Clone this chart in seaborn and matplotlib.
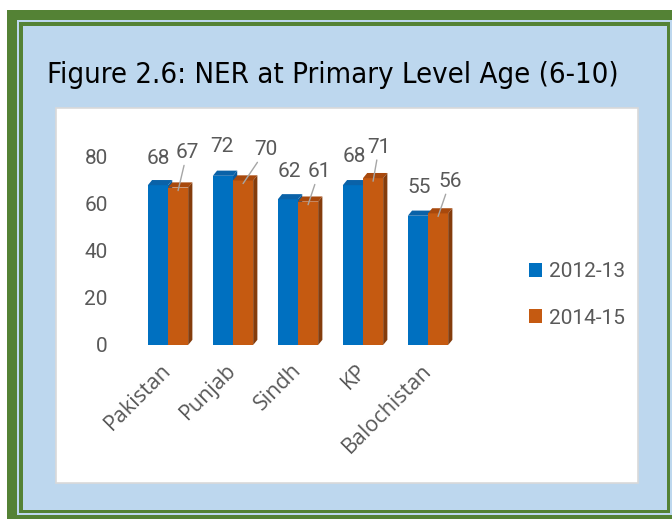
import numpy as np
import pandas as pd
import matplotlib
matplotlib.use('Agg')
import matplotlib.pyplot as plt
import seaborn as sns
from matplotlib.patches import Rectangle, Polygon

# datos
regiones = ['Pakistan', 'Punjab', 'Sindh', 'KP', 'Balochistan']
periodos = ['2012-13', '2014-15']
ner_2012 = [68, 72, 62, 68, 55]
ner_2014 = [67, 70, 61, 71, 56]
yticks = [0, 20, 40, 60, 80]

df = pd.DataFrame({
    'region': regiones * 2,
    'periodo': [periodos[0]] * 5 + [periodos[1]] * 5,
    'ner': ner_2012 + ner_2014,
})

sns.set_style('white')
plt.rcParams['font.family'] = ['Roboto', 'DejaVu Sans']

W, H = 672, 519
fig = plt.figure(figsize=(W / 100, H / 100), dpi=100)
fig.patch.set_facecolor('white')


def caja(x0, y0, x1, y1, **kw):
    # rectangulo en pixeles (origen arriba a la izquierda)
    r = Rectangle((x0 / W, 1 - y1 / H), (x1 - x0) / W, (y1 - y0) / H,
                  transform=fig.transFigure, **kw)
    fig.add_artist(r)


verde = '#548235'
celeste = '#BDD7EE'
caja(7, 10, 672, 519, facecolor=verde, edgecolor='none', zorder=0)
caja(17, 20, 672, 515, facecolor=celeste, edgecolor='none', zorder=0)
caja(19, 22, 670, 513, facecolor=verde, edgecolor='none', zorder=0)
caja(23, 26, 667, 510, facecolor=celeste, edgecolor='none', zorder=0)
caja(56, 108, 638, 483, facecolor='white', edgecolor='#D9D9D9', lw=1.2, zorder=0)

fig.text(47 / W, 1 - 75 / H, 'Figure 2.6: NER at Primary Level Age (6-10)',
         family='DejaVu Sans', fontstretch='condensed', fontsize=21,
         color='black', va='center', ha='left')

# ejes: 0 en y=345, 80 en y=157
ax = fig.add_axes([116 / W, 1 - 345 / H, (467 - 116) / W, (345 - 157) / H])
ax.set_facecolor('none')

azul = '#0070C0'
naranja = '#C55A11'
sns.barplot(data=df, x='region', y='ner', hue='periodo', palette=[azul, naranja],
            width=0.62, gap=0, saturation=1, linewidth=0, ax=ax, legend=True)

ax.set_xlim(-0.8, 4.6)
ax.set_ylim(0, 80)

# efecto 3D
dx, dy = 0.065, 2.2
caras = [('#0A62A8', '#0A5A9C'), ('#A8490D', '#843C0C')]
for k, cont in enumerate(ax.containers):
    top_col, side_col = caras[k]
    for p in cont.patches:
        x, w, h = p.get_x(), p.get_width(), p.get_height()
        z = 2 + k * 2
        p.set_zorder(z)
        ax.add_patch(Polygon([(x, h), (x + dx, h + dy), (x + w + dx, h + dy), (x + w, h)],
                             closed=True, facecolor=top_col, edgecolor='none',
                             zorder=z, clip_on=False))
        ax.add_patch(Polygon([(x + w, 0), (x + w + dx, dy), (x + w + dx, h + dy), (x + w, h)],
                             closed=True, facecolor=side_col, edgecolor='none',
                             zorder=z - 0.5 if k == 0 else z, clip_on=False))

# etiquetas de datos (desplazamientos en pixeles)
off_2012 = [(0, 27), (-1, 29), (1, 28), (1, 29), (1, 28)]
off_2014 = [(9, 38), (23, 34), (11, 33), (6, 34), (12, 35)]
gris = '#595959'
for k, (cont, vals, offs) in enumerate(zip(ax.containers, [ner_2012, ner_2014],
                                           [off_2012, off_2014])):
    for p, v, (ox, oy) in zip(cont.patches, vals, offs):
        cx = p.get_x() + p.get_width() / 2
        if k == 0:
            ax.annotate(f'{v}', xy=(cx, v), xytext=(ox * 0.72, oy * 0.72),
                        textcoords='offset points', ha='center', va='center',
                        fontsize=15, color=gris, zorder=10)
        else:
            ax.annotate(f'{v}', xy=(cx, v - 1.3), xytext=(ox * 0.72, oy * 0.72),
                        textcoords='offset points', ha='center', va='center',
                        fontsize=15, color=gris, zorder=10,
                        arrowprops=dict(arrowstyle='-', color='#A6A6A6', lw=1,
                                        shrinkA=0, shrinkB=0))

sns.despine(ax=ax, left=True, bottom=True)
ax.set_xlabel('')
ax.set_ylabel('')
ax.set_yticks(yticks)
ax.set_yticklabels([str(t) for t in yticks], fontsize=15, color=gris)
ax.tick_params(axis='y', length=0, pad=6)
ax.tick_params(axis='x', length=0, pad=16)
ax.set_xticks(range(len(regiones)))
ax.set_xticklabels(regiones, rotation=45, ha='right', va='center', rotation_mode='anchor',
                   fontsize=15.5, color=gris, family=['Open Sans', 'DejaVu Sans'])
ax.grid(False)

leg = ax.legend(loc='center left', bbox_to_anchor=(510 / W, 1 - 295 / H),
                bbox_transform=fig.transFigure, frameon=False, fontsize=15,
                handlelength=0.65, handleheight=0.65, handletextpad=0.3,
                labelspacing=1.3, title=None)
for t in leg.get_texts():
    t.set_color(gris)

fig.savefig('out.png', dpi=100, facecolor=fig.get_facecolor())
